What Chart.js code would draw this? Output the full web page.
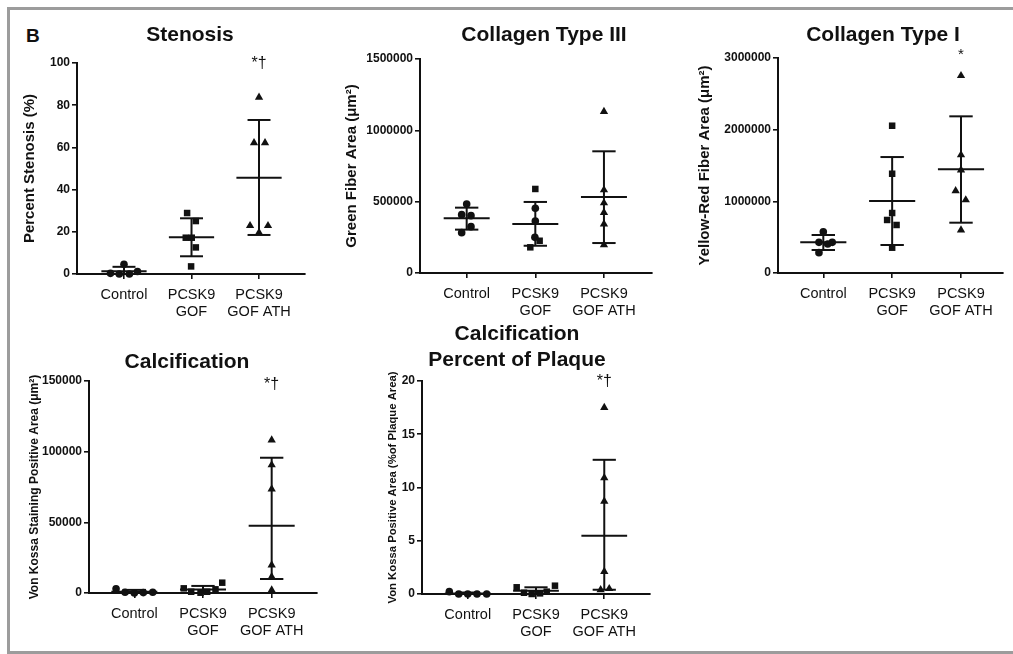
<!DOCTYPE html>
<html><head><meta charset="utf-8">
<script src="https://cdn.jsdelivr.net/npm/chart.js@4.4.1/dist/chart.umd.min.js"></script>
<style>
html,body{margin:0;padding:0;background:#fff;}
body{width:1013px;height:654px;position:relative;overflow:hidden;font-family:"Liberation Sans",Arial,sans-serif;}
.frame{position:absolute;left:7px;top:7px;width:1030px;height:647px;border-top:3px solid #9c9c9c;border-left:3px solid #9c9c9c;border-bottom:3px solid #9c9c9c;box-sizing:border-box;}
canvas{position:absolute;}
#lbl{position:absolute;left:26px;top:25px;font-weight:bold;font-size:19px;color:#111;line-height:22px;}
</style></head><body>
<div class="frame"></div>
<div id="lbl">B</div>
<script>
// ---------- DATA ----------
const categoryLabels = ['Control', ['PCSK9', 'GOF'], ['PCSK9', 'GOF ATH']];

const stenosisControl = [4.6, 0.3, 0, 0, 1.2];
const stenosisGOF = [28.9, 25.1, 17.2, 17.2, 12.6, 3.6];
const stenosisATH = [83.7, 62.2, 62.2, 22.9, 19.6, 22.9];
const stenosisMean = [1.3, 17.4, 45.6];
const stenosisSDHigh = [3.4, 26.4, 73.0];
const stenosisSDLow = [-0.8, 8.4, 18.5];
const stenosisTicks = [0, 100, 20];

const col3Control = [484000, 409000, 402000, 325000, 283000];
const col3GOF = [589000, 454000, 365000, 250000, 226000, 180000];
const col3ATH = [1131000, 582000, 491000, 423000, 343000, 198000];
const col3Mean = [383000, 343000, 533000];
const col3SDHigh = [458000, 498000, 853000];
const col3SDLow = [304000, 191000, 210000];
const col3Ticks = [0, 1500000, 500000];

const col1Control = [576000, 428000, 405000, 428000, 284000];
const col1GOF = [2055000, 1385000, 837000, 740000, 670000, 353000];
const col1ATH = [2753000, 1647000, 1437000, 1148000, 1019000, 600000];
const col1Mean = [428000, 1005000, 1447000];
const col1SDHigh = [530000, 1618000, 2186000];
const col1SDLow = [321000, 391000, 702000];
const col1Ticks = [0, 3000000, 1000000];

const calcControl = [3000, 500, 0, 300, 500];
const calcGOF = [3300, 900, 200, 900, 2600, 7300];
const calcATH = [108200, 90600, 73600, 19800, 11500, 2100];
const calcMean = [900, 2500, 47600];
const calcSDHigh = [2200, 5000, 95700];
const calcSDLow = [-400, 0, 9900];
const calcTicks = [0, 150000, 50000];

const pctControl = [0.22, 0, 0, 0, 0];
const pctGOF = [0.63, 0.12, 0, 0.06, 0.22, 0.78];
const pctATH = [17.5, 10.9, 8.7, 2.1, 0.4, 0.5];
const pctMean = [0.04, 0.3, 5.48];
const pctSDHigh = [0.14, 0.63, 12.6];
const pctSDLow = [-0.06, -0.03, 0.4];
const pctTicks = [0, 20, 5];

// ---------- LAYOUT (horizontal spread of points, in category units) ----------
const stenosisJitter = [[0, -0.2, -0.07, 0.08, 0.2], [-0.065, 0.064, -0.085, 0.004, 0.064, -0.006], [0, -0.074, 0.089, -0.133, 0, 0.133]];
const col3Jitter = [[0, -0.073, 0.063, 0.063, -0.073], [0, 0, 0, -0.006, 0.063, -0.073], [0, 0, 0, 0, 0, 0]];
const col1Jitter = [[0, -0.063, 0.064, 0.13, -0.063], [0, 0, 0, -0.073, 0.064, 0], [0, 0, 0, -0.078, 0.069, 0]];
const calcJitter = [[-0.266, -0.135, 0, 0.131, 0.268], [-0.28, -0.172, -0.036, 0.061, 0.182, 0.28], [0, 0, 0, 0, 0, 0]];
const pctJitter = [[-0.27, -0.132, 0, 0.136, 0.278], [-0.283, -0.176, -0.063, 0.059, 0.157, 0.278], [0, 0, 0, 0, -0.053, 0.073]];

const FONT = '"Liberation Sans", Arial, Helvetica, sans-serif';
const INK = '#111';

const textPlugin = {
  id: 'panelText',
  afterDraw(chart, args, opts) {
    const ctx = chart.ctx;
    (opts.items || []).forEach(t => {
      ctx.save();
      ctx.font = t.font;
      ctx.fillStyle = INK;
      ctx.textAlign = 'center';
      ctx.textBaseline = 'middle';
      let x = t.x, y = t.y;
      if (t.cat !== undefined) {
        x = chart.scales.x.getPixelForValue(t.cat);
        y = chart.scales.y.getPixelForValue(t.val) + t.dy;
      }
      ctx.fillText(t.text, x, y);
      ctx.restore();
    });
  }
};

function makePanel(p) {
  const c = document.createElement('canvas');
  c.width = p.box.W; c.height = p.box.H;
  c.style.left = p.box.L + 'px'; c.style.top = p.box.T + 'px';
  document.body.appendChild(c);
  const yW = p.area.left - p.box.L;
  const xH = p.box.T + p.box.H - p.area.bottom;
  const padTop = p.area.top - p.box.T;
  const padRight = p.box.L + p.box.W - p.area.right;
  const lh = p.yTitleSize * 1.2;

  const datasets = [];
  const groups = [p.control, p.gof, p.ath];
  const styles = [p.shapes[0], p.shapes[1], p.shapes[2]];
  const radii = { circle: 3.8, rect: 4.6, triangle: 4.8 };
  for (let g = 0; g < 3; g++) {
    const m = p.mean[g], hi = p.hi[g], lo = p.lo[g];
    const segs = [
      [[g - 0.335, m], [g + 0.335, m]],
      [[g - 0.17, hi], [g + 0.17, hi]],
      [[g - 0.17, lo], [g + 0.17, lo]],
      [[g, lo], [g, hi]]
    ];
    segs.forEach(s => datasets.push({
      data: s.map(q => ({ x: q[0], y: q[1] })),
      showLine: true, pointRadius: 0, borderColor: INK, borderWidth: 2,
      backgroundColor: INK
    }));
  }
  for (let g = 0; g < 3; g++) {
    const st = styles[g];
    datasets.push({
      data: groups[g].map((v, i) => ({ x: g + p.jitter[g][i], y: v })),
      pointStyle: st,
      pointRadius: Array.isArray(st) ? st.map(s => radii[s]) : radii[st],
      backgroundColor: INK, borderColor: INK, borderWidth: 0,
      showLine: false, clip: false
    });
  }

  const items = p.titles.map(t => ({ text: t.text, x: t.x - p.box.L, y: t.y - p.box.T, font: 'bold ' + t.size + 'px ' + FONT }));
  items.push({ text: p.mark, cat: 2, val: p.ticks[1], dy: p.markDy, font: p.markSize + 'px ' + FONT });

  new Chart(c, {
    type: 'scatter',
    data: { datasets },
    plugins: [textPlugin],
    options: {
      responsive: false, animation: false, devicePixelRatio: 1,
      layout: { padding: { left: 0, top: padTop, right: padRight, bottom: 0 } },
      plugins: { legend: { display: false }, tooltip: { enabled: false }, title: { display: false },
        panelText: { items } },
      scales: {
        x: {
          type: 'linear', min: p.xmin, max: p.xmax,
          afterBuildTicks: s => { s.ticks = [0, 1, 2].map(v => ({ value: v })); },
          afterFit: s => { s.height = xH; },
          ticks: { callback: (v, i) => categoryLabels[i], color: INK, padding: 8,
            font: { family: FONT, size: 14.5, lineHeight: 1.17 }, maxRotation: 0, autoSkip: false },
          grid: { display: true, drawOnChartArea: false, drawTicks: true, tickLength: 5, color: INK, lineWidth: 1.6 },
          border: { display: true, color: INK, width: 2 }
        },
        y: {
          type: 'linear', min: p.ticks[0], max: p.ticks[1],
          afterFit: s => { s.width = yW; },
          ticks: { stepSize: p.ticks[2], callback: v => String(v), color: INK, padding: 2,
            font: { family: FONT, size: 12, weight: 'bold' } },
          grid: { display: true, drawOnChartArea: false, drawTicks: true, tickLength: 5, color: INK, lineWidth: 1.6 },
          border: { display: true, color: INK, width: 2 },
          title: { display: true, text: p.yTitle, color: INK,
            font: { family: FONT, size: p.yTitleSize, weight: 'bold', lineHeight: 1.2 },
            padding: { top: p.yTitleX - p.box.L - lh / 2, bottom: 0 } }
        }
      }
    }
  });
}

makePanel({
  box: { L: 12, T: 14, W: 310, H: 310 }, area: { left: 77, top: 63, right: 305, bottom: 274 },
  xmin: -0.696, xmax: 2.681, ticks: stenosisTicks,
  control: stenosisControl, gof: stenosisGOF, ath: stenosisATH,
  mean: stenosisMean, hi: stenosisSDHigh, lo: stenosisSDLow, jitter: stenosisJitter,
  shapes: ['circle', 'rect', 'triangle'],
  yTitle: 'Percent Stenosis (%)', yTitleSize: 15, yTitleX: 30,
  titles: [{ text: 'Stenosis', x: 190, y: 35, size: 21 }],
  mark: '*†', markDy: 1, markSize: 16
});

makePanel({
  box: { L: 335, T: 14, W: 330, H: 310 }, area: { left: 420, top: 59, right: 652, bottom: 273 },
  xmin: -0.68, xmax: 2.70, ticks: col3Ticks,
  control: col3Control, gof: col3GOF, ath: col3ATH,
  mean: col3Mean, hi: col3SDHigh, lo: col3SDLow, jitter: col3Jitter,
  shapes: ['circle', ['rect', 'circle', 'circle', 'circle', 'rect', 'rect'], 'triangle'],
  yTitle: 'Green Fiber Area (μm²)', yTitleSize: 15, yTitleX: 352,
  titles: [{ text: 'Collagen Type III', x: 544, y: 35, size: 21 }],
  mark: '', markDy: 0, markSize: 16
});

makePanel({
  box: { L: 680, T: 14, W: 330, H: 310 }, area: { left: 778, top: 58, right: 1003, bottom: 273 },
  xmin: -0.658, xmax: 2.61, ticks: col1Ticks,
  control: col1Control, gof: col1GOF, ath: col1ATH,
  mean: col1Mean, hi: col1SDHigh, lo: col1SDLow, jitter: col1Jitter,
  shapes: ['circle', 'rect', 'triangle'],
  yTitle: 'Yellow-Red Fiber Area (μm²)', yTitleSize: 15, yTitleX: 705,
  titles: [{ text: 'Collagen Type I', x: 883, y: 35, size: 21 }],
  mark: '*', markDy: -3, markSize: 15
});

makePanel({
  box: { L: 12, T: 325, W: 320, H: 322 }, area: { left: 89, top: 381, right: 317, bottom: 593 },
  xmin: -0.66, xmax: 2.66, ticks: calcTicks,
  control: calcControl, gof: calcGOF, ath: calcATH,
  mean: calcMean, hi: calcSDHigh, lo: calcSDLow, jitter: calcJitter,
  shapes: ['circle', 'rect', 'triangle'],
  yTitle: 'Von Kossa Staining Positive Area (μm²)', yTitleSize: 12, yTitleX: 35,
  titles: [{ text: 'Calcification', x: 187, y: 362, size: 21 }],
  mark: '*†', markDy: 4, markSize: 16
});

makePanel({
  box: { L: 370, T: 318, W: 300, H: 329 }, area: { left: 422, top: 381, right: 650, bottom: 594 },
  xmin: -0.67, xmax: 2.67, ticks: pctTicks,
  control: pctControl, gof: pctGOF, ath: pctATH,
  mean: pctMean, hi: pctSDHigh, lo: pctSDLow, jitter: pctJitter,
  shapes: ['circle', 'rect', 'triangle'],
  yTitle: 'Von Kossa Positive Area (%of Plaque Area)', yTitleSize: 11.3, yTitleX: 393,
  titles: [{ text: 'Calcification', x: 517, y: 334, size: 21 }, { text: 'Percent of Plaque', x: 517, y: 360, size: 21 }],
  mark: '*†', markDy: 1, markSize: 16
});
</script>
</body></html>
